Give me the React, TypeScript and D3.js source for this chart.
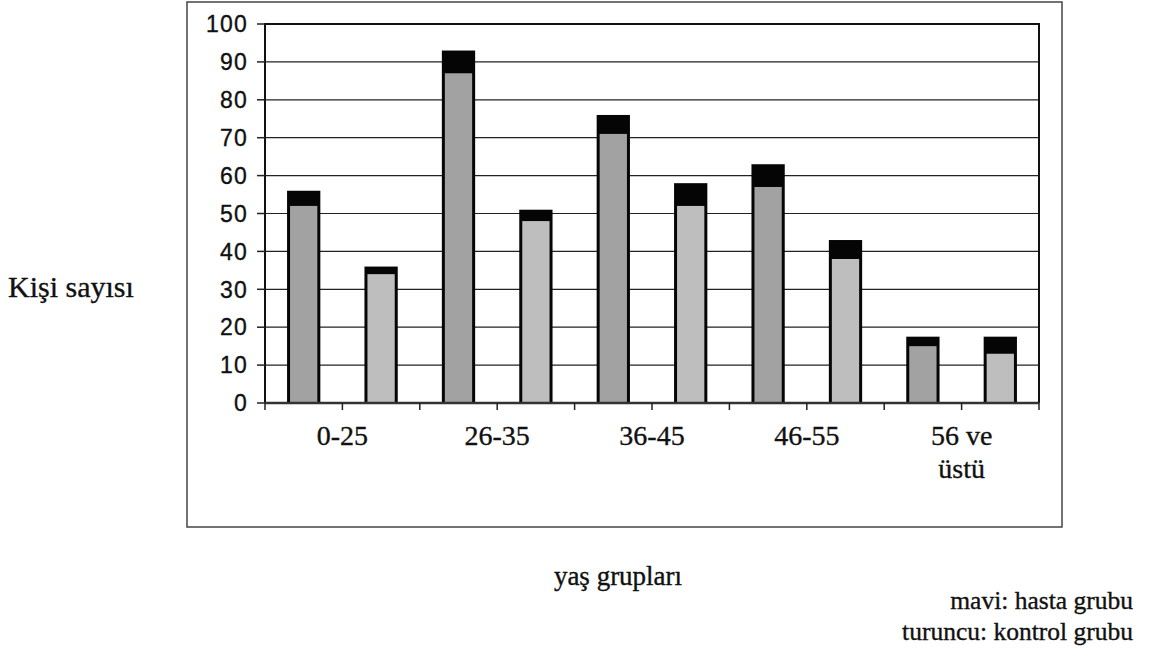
import React from "react";
import * as d3 from "d3";

// age groups on the x axis
const groups = ["0-25", "26-35", "36-45", "46-55", "56 ve|üstü"];
const seriesNames = ["hasta", "kontrol"];

// bar totals (black top) and the gray inner part, one value per age group
const hastaTotal = [56, 93, 76, 63, 17.5];
const hastaInner = [52, 87, 71, 57, 15];
const kontrolTotal = [36, 51, 58, 43, 17.5];
const kontrolInner = [34, 48, 52, 38, 13];

const yTicks = [0, 10, 20, 30, 40, 50, 60, 70, 80, 90, 100];

const W = 1150;
const H = 656;
const plot = { left: 265, right: 1039, top: 24, bottom: 403 };
const serif = "'Liberation Serif', 'Times New Roman', serif";
const sans = "'Liberation Sans', Arial, sans-serif";

export default function App() {
  // one slot per bar, two bars per group
  const slots = d3.range(groups.length * seriesNames.length);
  const x = d3
    .scaleBand<number>()
    .domain(slots)
    .range([plot.left, plot.right])
    .padding(0);
  const y = d3
    .scaleLinear()
    .domain([0, 100])
    .range([plot.bottom, plot.top]);

  const barW = x.bandwidth() * 0.43;
  const inset = 3;

  const bars = groups.flatMap((g, i) => [
    { slot: i * 2, total: hastaTotal[i], inner: hastaInner[i], fill: "#a2a2a2" },
    { slot: i * 2 + 1, total: kontrolTotal[i], inner: kontrolInner[i], fill: "#bebebe" },
  ]);

  // tick positions: every band boundary
  const boundaries = slots.map((s) => x(s) as number).concat([plot.right]);

  const ink = { fill: "#111", stroke: "#111", strokeWidth: 0.35 };

  return (
    <svg
      width={W}
      height={H}
      style={{ position: "absolute", left: 0, top: 0, background: "#fff" }}
    >
      {/* outer chart frame */}
      <rect x={187} y={2} width={875} height={525} fill="none" stroke="#444" strokeWidth={1.5} />

      {/* grid lines */}
      {yTicks
        .filter((t) => t > 0 && t < 100)
        .map((t) => (
          <line key={t} x1={plot.left} x2={plot.right} y1={y(t)} y2={y(t)} stroke="#222" strokeWidth={1.2} />
        ))}

      {/* bars */}
      {bars.map((b) => {
        const cx = (x(b.slot) as number) + x.bandwidth() / 2;
        return (
          <g key={b.slot}>
            <rect x={cx - barW / 2} y={y(b.total)} width={barW} height={y(0) - y(b.total)} fill="#050505" />
            <rect
              x={cx - barW / 2 + inset}
              y={y(b.inner)}
              width={barW - inset * 2}
              height={y(0) - y(b.inner) - 1}
              fill={b.fill}
            />
          </g>
        );
      })}

      {/* plot frame: left, top, right */}
      <path
        d={`M${plot.left},${plot.bottom}V${plot.top}H${plot.right}V${plot.bottom}`}
        fill="none"
        stroke="#111"
        strokeWidth={2}
      />
      {/* x axis */}
      <line x1={plot.left} x2={plot.right} y1={plot.bottom} y2={plot.bottom} stroke="#333" strokeWidth={2.5} />
      {boundaries.map((bx, i) => (
        <line key={i} x1={bx} x2={bx} y1={plot.bottom} y2={plot.bottom + 7} stroke="#222" strokeWidth={1.5} />
      ))}

      {/* y axis ticks and labels */}
      {yTicks.map((t) => (
        <g key={t}>
          <line x1={plot.left - 8} x2={plot.left} y1={y(t)} y2={y(t)} stroke="#222" strokeWidth={1.5} />
          <text
            x={248}
            y={y(t)}
            dy="0.36em"
            textAnchor="end"
            fontFamily={sans}
            fontSize={23}
            letterSpacing={1.2}
            {...ink}
          >
            {t}
          </text>
        </g>
      ))}

      {/* group labels */}
      {groups.map((g, i) => {
        const gx = x(i * 2 + 1) as number;
        const lines = g.split("|");
        return (
          <text key={g} x={gx} y={445} textAnchor="middle" fontFamily={serif} fontSize={28} {...ink}>
            {lines.map((l, j) => (
              <tspan key={j} x={gx} dy={j === 0 ? 0 : 33}>
                {l}
              </tspan>
            ))}
          </text>
        );
      })}

      {/* axis titles */}
      <text x={8} y={297} fontFamily={serif} fontSize={30} {...ink}>
        Kişi sayısı
      </text>
      <text x={618} y={585} textAnchor="middle" fontFamily={serif} fontSize={27} {...ink}>
        yaş grupları
      </text>

      {/* legend note */}
      <text x={1133} y={609} textAnchor="end" fontFamily={serif} fontSize={25.5} {...ink}>
        mavi: hasta grubu
      </text>
      <text x={1133} y={640} textAnchor="end" fontFamily={serif} fontSize={25.5} {...ink}>
        turuncu: kontrol grubu
      </text>
    </svg>
  );
}
